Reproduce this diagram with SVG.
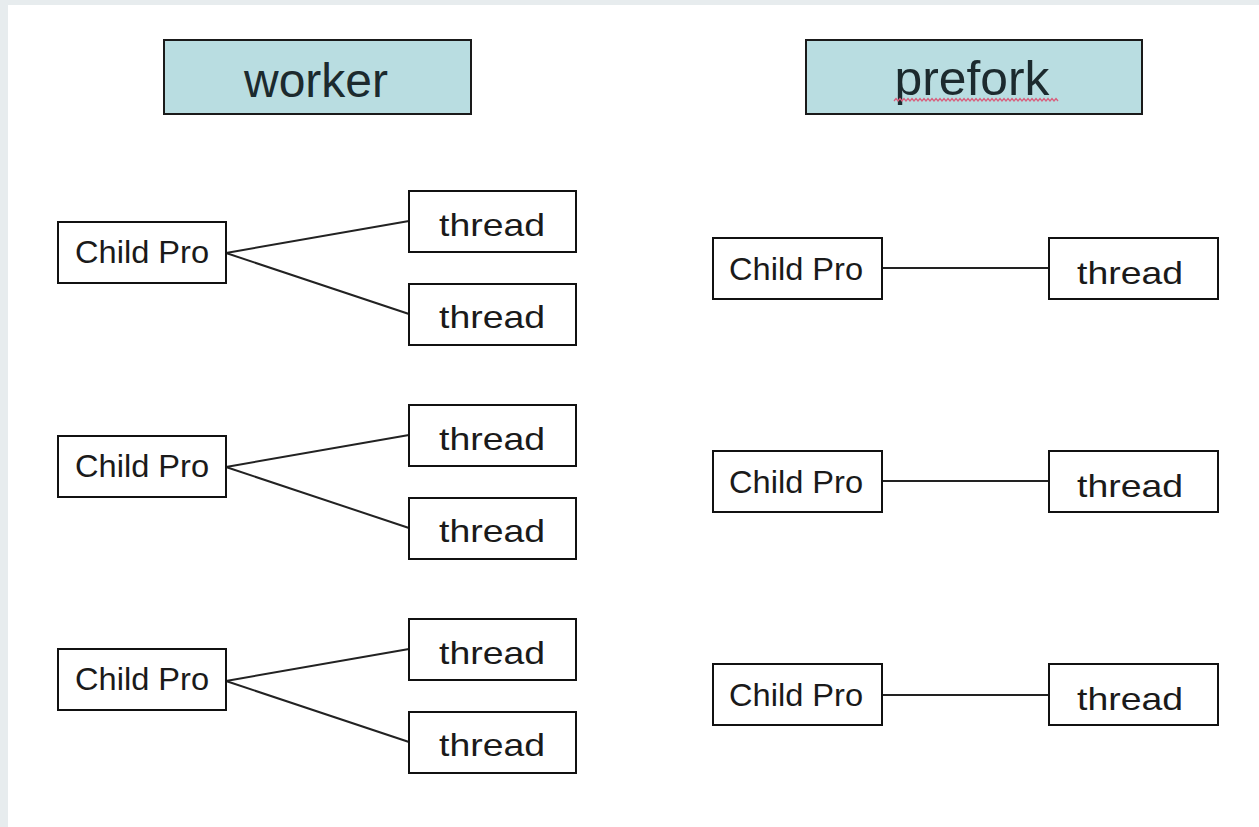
<svg xmlns="http://www.w3.org/2000/svg" width="1259" height="827" viewBox="0 0 1259 827">
<style>
.bg{fill:#e7ecee}
.node{fill:#ffffff;stroke:#111;stroke-width:2}
.head{fill:#b9dde1;stroke:#1a1a1a;stroke-width:2}
.lbl{font-family:"Liberation Sans",Arial,sans-serif;font-size:32px;fill:#1a1a1a;text-anchor:middle}
.big{font-family:"Liberation Sans",Arial,sans-serif;font-size:48px;fill:#1c2a2e;text-anchor:middle}
.conn line{stroke:#222;stroke-width:2}
</style>
<rect x="0" y="0" width="1259" height="827" class="bg"/>
<rect x="8" y="5" width="1251" height="822" fill="#ffffff"/>

<g id="worker">
<rect class="head" x="164" y="40" width="307" height="74"/>
<text class="big" x="316" y="97" textLength="144" lengthAdjust="spacingAndGlyphs">worker</text>
</g>
<g id="prefork">
<rect class="head" x="806" y="40" width="336" height="74"/>
<text class="big" x="972" y="95" textLength="155" lengthAdjust="spacingAndGlyphs">prefork</text>
<path d="M894 101 l2 -2.5 l2 2.5 l2 -2.5 l2 2.5 l2 -2.5 l2 2.5 l2 -2.5 l2 2.5 l2 -2.5 l2 2.5 l2 -2.5 l2 2.5 l2 -2.5 l2 2.5 l2 -2.5 l2 2.5 l2 -2.5 l2 2.5 l2 -2.5 l2 2.5 l2 -2.5 l2 2.5 l2 -2.5 l2 2.5 l2 -2.5 l2 2.5 l2 -2.5 l2 2.5 l2 -2.5 l2 2.5 l2 -2.5 l2 2.5 l2 -2.5 l2 2.5 l2 -2.5 l2 2.5 l2 -2.5 l2 2.5 l2 -2.5 l2 2.5 l2 -2.5 l2 2.5 l2 -2.5 l2 2.5 l2 -2.5 l2 2.5 l2 -2.5 l2 2.5 l2 -2.5 l2 2.5 l2 -2.5 l2 2.5 l2 -2.5 l2 2.5 l2 -2.5 l2 2.5 l2 -2.5 l2 2.5 l2 -2.5 l2 2.5 l2 -2.5 l2 2.5 l2 -2.5 l2 2.5 l2 -2.5 l2 2.5 l2 -2.5 l2 2.5 l2 -2.5 l2 2.5 l2 -2.5 l2 2.5 l2 -2.5 l2 2.5 l2 -2.5 l2 2.5 l2 -2.5 l2 2.5 l2 -2.5 l2 2.5 l2 -2.5 l2 2.5" fill="none" stroke="#d8607e" stroke-width="1.3"/>
</g>

<g class="conn" id="connectors">
<line x1="226" y1="253" x2="409" y2="221"/>
<line x1="226" y1="253" x2="409" y2="314"/>
<line x1="226" y1="467" x2="409" y2="435"/>
<line x1="226" y1="467" x2="409" y2="528"/>
<line x1="226" y1="681" x2="409" y2="649"/>
<line x1="226" y1="681" x2="409" y2="742"/>
<line x1="882" y1="268" x2="1049" y2="268"/>
<line x1="882" y1="481" x2="1049" y2="481"/>
<line x1="882" y1="695" x2="1049" y2="695"/>
</g>

<g id="wchild1"><rect class="node" x="58" y="222" width="168" height="61"/><text class="lbl" x="142" y="263" textLength="134" lengthAdjust="spacingAndGlyphs">Child Pro</text></g>
<g id="wthread1a"><rect class="node" x="409" y="191" width="167" height="61"/><text class="lbl" x="492" y="236" textLength="106" lengthAdjust="spacingAndGlyphs">thread</text></g>
<g id="wthread1b"><rect class="node" x="409" y="284" width="167" height="61"/><text class="lbl" x="492" y="328" textLength="106" lengthAdjust="spacingAndGlyphs">thread</text></g>

<g id="wchild2"><rect class="node" x="58" y="436" width="168" height="61"/><text class="lbl" x="142" y="477" textLength="134" lengthAdjust="spacingAndGlyphs">Child Pro</text></g>
<g id="wthread2a"><rect class="node" x="409" y="405" width="167" height="61"/><text class="lbl" x="492" y="450" textLength="106" lengthAdjust="spacingAndGlyphs">thread</text></g>
<g id="wthread2b"><rect class="node" x="409" y="498" width="167" height="61"/><text class="lbl" x="492" y="542" textLength="106" lengthAdjust="spacingAndGlyphs">thread</text></g>

<g id="wchild3"><rect class="node" x="58" y="649" width="168" height="61"/><text class="lbl" x="142" y="690" textLength="134" lengthAdjust="spacingAndGlyphs">Child Pro</text></g>
<g id="wthread3a"><rect class="node" x="409" y="619" width="167" height="61"/><text class="lbl" x="492" y="664" textLength="106" lengthAdjust="spacingAndGlyphs">thread</text></g>
<g id="wthread3b"><rect class="node" x="409" y="712" width="167" height="61"/><text class="lbl" x="492" y="756" textLength="106" lengthAdjust="spacingAndGlyphs">thread</text></g>

<g id="pchild1"><rect class="node" x="713" y="238" width="169" height="61"/><text class="lbl" x="796" y="280" textLength="134" lengthAdjust="spacingAndGlyphs">Child Pro</text></g>
<g id="pthread1"><rect class="node" x="1049" y="238" width="169" height="61"/><text class="lbl" x="1130" y="284" textLength="106" lengthAdjust="spacingAndGlyphs">thread</text></g>

<g id="pchild2"><rect class="node" x="713" y="451" width="169" height="61"/><text class="lbl" x="796" y="493" textLength="134" lengthAdjust="spacingAndGlyphs">Child Pro</text></g>
<g id="pthread2"><rect class="node" x="1049" y="451" width="169" height="61"/><text class="lbl" x="1130" y="497" textLength="106" lengthAdjust="spacingAndGlyphs">thread</text></g>

<g id="pchild3"><rect class="node" x="713" y="664" width="169" height="61"/><text class="lbl" x="796" y="706" textLength="134" lengthAdjust="spacingAndGlyphs">Child Pro</text></g>
<g id="pthread3"><rect class="node" x="1049" y="664" width="169" height="61"/><text class="lbl" x="1130" y="710" textLength="106" lengthAdjust="spacingAndGlyphs">thread</text></g>
</svg>
